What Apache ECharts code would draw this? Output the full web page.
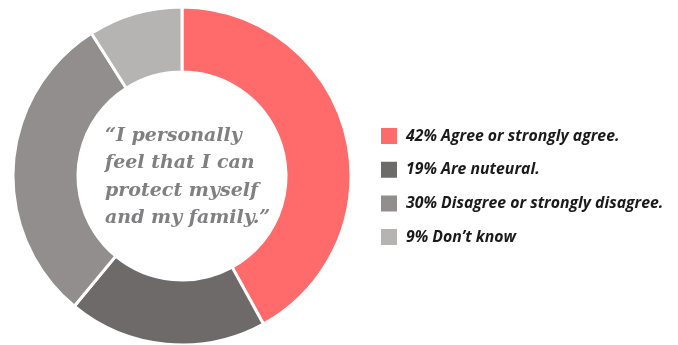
<!DOCTYPE html>
<html><head><meta charset="utf-8">
<script src="https://cdn.jsdelivr.net/npm/echarts@6/dist/echarts.min.js"></script>
<style>html,body{margin:0;padding:0;background:#fff}#c{width:678px;height:345px}</style>
</head><body><div id="c"></div>
<script>
const categories = ["42% Agree or strongly agree.", "19% Are nuteural.", "30% Disagree or strongly disagree.", "9% Don\u2019t know"];
const values = [42, 19, 30, 9];
const colors = ["#FF6B6B", "#6F6A6A", "#928E8D", "#B6B4B2"];
const centerText = "\u201CI personally\nfeel that I can\nprotect myself\nand my family.\u201D";

const chart = echarts.init(document.getElementById('c'), null, {renderer: 'canvas'});
chart.setOption({
  animation: false,
  color: colors,
  legend: {
    orient: 'vertical',
    left: 379,
    top: 126,
    padding: 0,
    itemWidth: 18,
    itemHeight: 18,
    itemGap: 13.7,
    icon: 'rect',
    data: categories,
    textStyle: {fontFamily: 'Open Sans', fontWeight: 'bold', fontStyle: 'italic', fontSize: 15.8, lineHeight: 18, color: '#1a1a1a', padding: [0,0,0,3]}
  },
  graphic: [{
    type: 'text',
    z: 100,
    x: 105, y: 177,
    style: {
      text: centerText,
      align: 'left', verticalAlign: 'middle',
      fontFamily: 'DejaVu Serif', fontWeight: 'bold', fontStyle: 'italic',
      fontSize: 19, lineHeight: 27.5, fill: '#808082'
    }
  }],
  series: [{
    type: 'pie',
    center: [182, 176],
    radius: [104, 169],
    startAngle: 90,
    clockwise: true,
    label: {show: false},
    labelLine: {show: false},
    emphasis: {disabled: true},
    itemStyle: {borderColor: '#fff', borderWidth: 3},
    data: categories.map((n, i) => ({name: n, value: values[i]}))
  }]
});
</script></body></html>
